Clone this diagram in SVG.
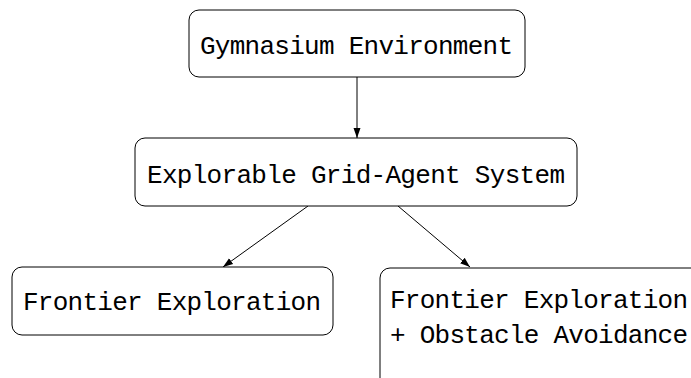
<svg xmlns="http://www.w3.org/2000/svg" width="691" height="378" viewBox="0 0 691 378">
<style>
.box{fill:#fff;stroke:#000;stroke-width:1}
.t{font-family:"Liberation Mono","DejaVu Sans Mono",monospace;font-size:26px;fill:#000}
.c{stroke:#000;stroke-width:1;fill:none}
</style>
<defs>
<marker id="ah" viewBox="0 0 10 10" refX="10" refY="5" markerWidth="10" markerHeight="10" markerUnits="userSpaceOnUse" orient="auto">
<path d="M0,1.5 L10,5 L0,8.5 Z" fill="#000"/>
</marker>
</defs>
<rect width="691" height="378" fill="#fff"/>
<g id="connectors">
<line class="c" x1="357" y1="77" x2="357" y2="138" marker-end="url(#ah)"/>
<line class="c" x1="308" y1="206" x2="223" y2="267" marker-end="url(#ah)"/>
<line class="c" x1="398" y1="206" x2="470" y2="267" marker-end="url(#ah)"/>
</g>
<g id="gym">
<rect class="box" x="189" y="10" width="336" height="67" rx="10"/>
<text class="t" x="200" y="54" textLength="313">Gymnasium Environment</text>
</g>
<g id="grid">
<rect class="box" x="135" y="138" width="442" height="68" rx="10"/>
<text class="t" x="147" y="183" textLength="418">Explorable Grid-Agent System</text>
</g>
<g id="frontier">
<rect class="box" x="12" y="267" width="321" height="68" rx="10"/>
<text class="t" x="23" y="310" textLength="298">Frontier Exploration</text>
</g>
<g id="frontier-obstacle">
<rect class="box" x="380" y="268" width="340" height="130" rx="10"/>
<text class="t" x="390" y="308" textLength="298">Frontier Exploration</text>
<text class="t" x="390" y="343" textLength="298">+ Obstacle Avoidance</text>
</g>
</svg>
